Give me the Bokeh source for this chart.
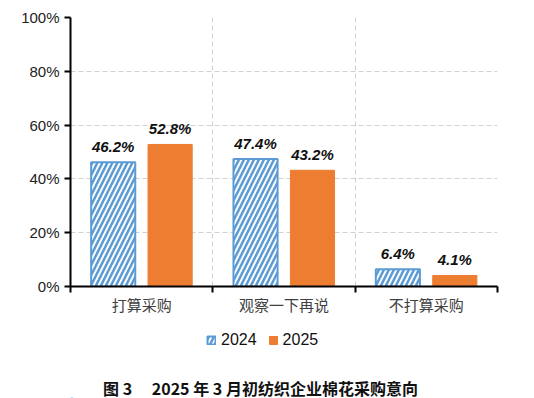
from bokeh.plotting import figure
from bokeh.layouts import column
from bokeh.models import (ColumnDataSource, FixedTicker, NumeralTickFormatter,
                          Legend, LegendItem, LabelSet, Label)
from bokeh.core.properties import value
from bokeh.embed import file_html
from bokeh.resources import INLINE
import numpy as np

categories = ["打算采购", "观察一下再说", "不打算采购"]
values_2024 = [46.2, 47.4, 6.4]
values_2025 = [52.8, 43.2, 4.1]
series_names = ["2024", "2025"]
y_ticks = [0, 20, 40, 60, 80, 100]
caption = "图 3\u3000 2025 年 3 月初纺织企业棉花采购意向"

BLUE = "#5B9BD5"
ORANGE = "#ED7D31"
style1 = dict(fill_color="white", line_color=BLUE, line_width=2, hatch_pattern="/",
              hatch_color=BLUE, hatch_weight=2.5, hatch_scale=10)
style2 = dict(fill_color=ORANGE, line_color=ORANGE)

centers = np.arange(len(categories)) + 0.5
off = 0.2
w = 0.31

src = ColumnDataSource(dict(
    x1=centers - off, x2=centers + off,
    v1=[v / 100 for v in values_2024], v2=[v / 100 for v in values_2025],
    l1=[f"{v:.1f}%" for v in values_2024], l2=[f"{v:.1f}%" for v in values_2025],
))

p = figure(width=534, height=322, x_range=(0, len(categories)), y_range=(0, 1),
           output_backend="svg", toolbar_location=None,
           min_border_left=70, min_border_right=37, min_border_top=17, min_border_bottom=36)
p.outline_line_color = None

p.vbar(x="x1", top="v1", width=w, source=src, **style1)
p.vbar(x="x2", top="v2", width=w, source=src, **style2)

for xf, yf, lf in (("x1", "v1", "l1"), ("x2", "v2", "l2")):
    p.add_layout(LabelSet(x=xf, y=yf, text=lf, source=src, text_align="center",
                          text_baseline="bottom", y_offset=7,
                          text_font=value("Liberation Sans"), text_font_style="bold italic",
                          text_font_size="15px", text_color="#111111"))

# y axis
p.yaxis.ticker = FixedTicker(ticks=[t / 100 for t in y_ticks])
p.yaxis.formatter = NumeralTickFormatter(format="0%")
p.yaxis.axis_line_width = 2
p.yaxis.axis_line_color = "black"
p.yaxis.major_tick_in = 0
p.yaxis.major_tick_out = 6
p.yaxis.major_tick_line_width = 2
p.yaxis.minor_tick_line_color = None
p.yaxis.major_label_text_font = "Liberation Sans"
p.yaxis.major_label_text_font_size = "15px"
p.yaxis.major_label_text_color = "#222222"

# x axis
p.xaxis.ticker = FixedTicker(ticks=list(centers), minor_ticks=list(range(len(categories) + 1)))
p.xaxis.major_label_overrides = {float(c): cat for c, cat in zip(centers, categories)}
p.xaxis.axis_line_width = 2
p.xaxis.axis_line_color = "black"
p.xaxis.major_tick_line_color = None
p.xaxis.minor_tick_in = 0
p.xaxis.minor_tick_out = 6
p.xaxis.minor_tick_line_width = 2
p.xaxis.minor_tick_line_color = "black"
p.xaxis.major_label_text_font = "Noto Sans CJK SC"
p.xaxis.major_label_text_font_size = "15px"
p.xaxis.major_label_text_color = "#404040"
p.xaxis.major_label_standoff = 1

# grids
p.ygrid.ticker = FixedTicker(ticks=[t / 100 for t in y_ticks[1:]])
p.ygrid.grid_line_color = "#D0D0D0"
p.ygrid.grid_line_dash = "5 3"
p.xgrid.ticker = FixedTicker(ticks=list(range(1, len(categories) + 1)))
p.xgrid.grid_line_color = "#D0D0D0"
p.xgrid.grid_line_dash = "5 3"

# bottom strip: legend + caption. Its frame is aligned with the main frame (427 px wide),
# so the x range is in frame pixels; the bars of src fall below y=1 and stay hidden.
H2 = 76
p2 = figure(width=534, height=H2, x_range=(0, 427), y_range=(1, H2 + 1),
            x_axis_type=None, y_axis_type=None, output_backend="svg",
            toolbar_location=None, min_border_left=70, min_border_right=37,
            min_border_top=0, min_border_bottom=0)
p2.outline_line_color = None
g1 = p2.vbar(x="x1", top="v1", width=w, source=src, **style1)
g2 = p2.vbar(x="x2", top="v2", width=w, source=src, **style2)

legend = Legend(items=[LegendItem(label=series_names[0], renderers=[g1]),
                       LegendItem(label=series_names[1], renderers=[g2])],
                orientation="horizontal", location=(136, 49),
                label_text_font="Liberation Sans", label_text_font_size="16px",
                label_text_color="#111111",
                glyph_width=10, glyph_height=10, spacing=11, label_standoff=5,
                border_line_color=None, background_fill_alpha=0, margin=0, padding=0)
p2.add_layout(legend)

p2.add_layout(Label(x=190, y=12, text=caption, text_align="center",
                    text_baseline="middle", text_font="Noto Sans CJK SC",
                    text_font_style="bold", text_font_size="16px", text_color="#111111"))

open("out.html", "w").write(file_html(column(p, p2, spacing=0), INLINE))
